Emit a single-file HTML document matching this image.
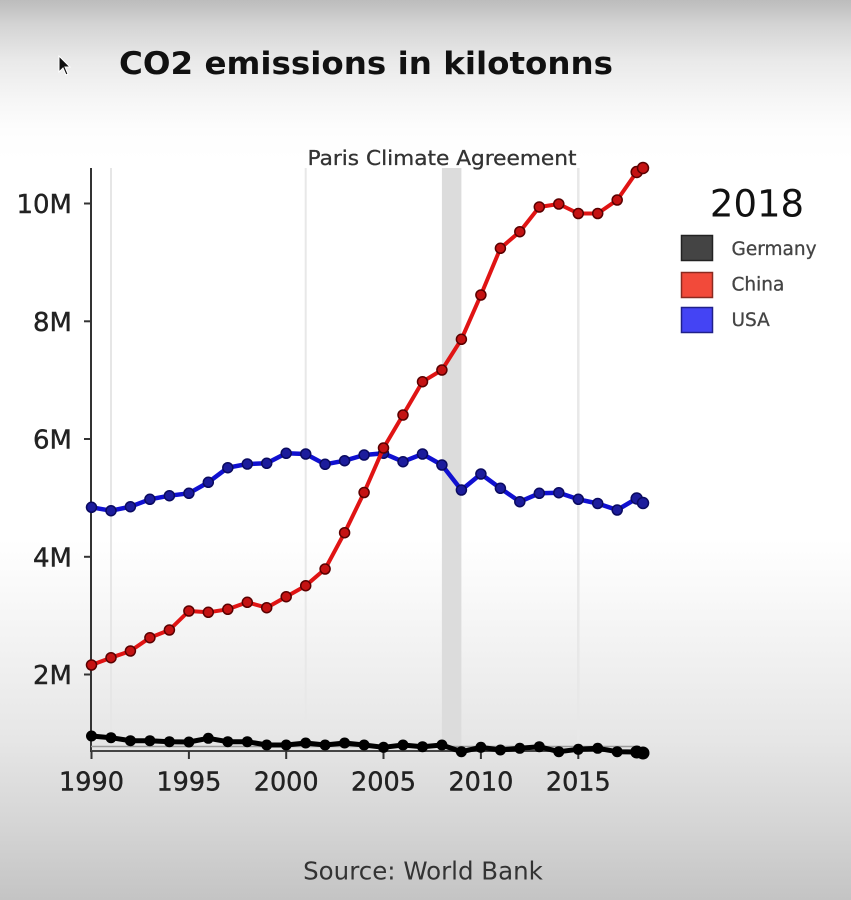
<!DOCTYPE html>
<html>
<head>
<meta charset="utf-8">
<style>
  html, body { margin:0; padding:0; }
  body {
    width:851px; height:900px; overflow:hidden;
    background: linear-gradient(to bottom, #bcbcbc 0px, #d4d4d4 25px, #e9e9e9 60px, #f6f6f6 100px, #fdfdfd 130px, #ffffff 160px, #ffffff 540px, #f3f3f3 640px, #e6e6e6 740px, #d4d4d4 830px, #c4c4c4 900px);
  }
  svg { display:block; }
  text { font-family: "DejaVu Sans", "Liberation Sans", sans-serif; }
</style>
</head>
<body>
<svg width="851" height="900" viewBox="0 0 851 900" xmlns="http://www.w3.org/2000/svg">
  <!-- title -->
  <text x="366" y="74" text-anchor="middle" font-size="31.5" font-weight="bold" fill="#111" textLength="494" lengthAdjust="spacingAndGlyphs">CO2 emissions in kilotonns</text>

  <!-- cursor -->
  <polygon points="59,56 59,72 63,68 66,75 68,74 65,67 70,67" fill="#111" stroke="#fff" stroke-width="1"/>

  <!-- background vertical markers -->
  <rect x="441.9" y="168" width="19.5" height="583" fill="#dcdcdc"/>
  <line x1="111" y1="168" x2="111" y2="751" stroke="#e6e6e6" stroke-width="2"/>
  <line x1="305.7" y1="168" x2="305.7" y2="751" stroke="#e8e8e8" stroke-width="2"/>
  <line x1="578.3" y1="168" x2="578.3" y2="751" stroke="#e8e8e8" stroke-width="2.5"/>

  <text x="442" y="165" text-anchor="middle" font-size="20.5" fill="#333" stroke="#333" stroke-width="0.3" textLength="269" lengthAdjust="spacingAndGlyphs">Paris Climate Agreement</text>

  <!-- axes -->
  <line x1="91" y1="168" x2="91" y2="752" stroke="#333" stroke-width="2"/>
  <line x1="91" y1="746.5" x2="640" y2="746.5" stroke="#9a9a9a" stroke-width="1.5"/>
  <line x1="91" y1="751" x2="640" y2="751" stroke="#444" stroke-width="2"/>

  <!-- y ticks -->
  <g stroke="#333" stroke-width="2">
    <line x1="84" y1="203.5" x2="91" y2="203.5"/>
    <line x1="84" y1="321.3" x2="91" y2="321.3"/>
    <line x1="84" y1="439" x2="91" y2="439"/>
    <line x1="84" y1="556.8" x2="91" y2="556.8"/>
    <line x1="84" y1="674.5" x2="91" y2="674.5"/>
  </g>
  <g font-size="26" fill="#222" stroke="#222" stroke-width="0.4" text-anchor="end">
    <text x="72" y="213">10M</text>
    <text x="72" y="330.8">8M</text>
    <text x="72" y="448.5">6M</text>
    <text x="72" y="566.3">4M</text>
    <text x="72" y="684">2M</text>
  </g>

  <!-- x ticks -->
  <g stroke="#333" stroke-width="2">
    <line x1="91.5" y1="751" x2="91.5" y2="759"/>
    <line x1="188.9" y1="751" x2="188.9" y2="759"/>
    <line x1="286.2" y1="751" x2="286.2" y2="759"/>
    <line x1="383.5" y1="751" x2="383.5" y2="759"/>
    <line x1="480.9" y1="751" x2="480.9" y2="759"/>
    <line x1="578.3" y1="751" x2="578.3" y2="759"/>
  </g>
  <g font-size="25.5" fill="#222" stroke="#222" stroke-width="0.4" text-anchor="middle">
    <text x="91.5" y="790.5">1990</text>
    <text x="188.9" y="790.5">1995</text>
    <text x="286.2" y="790.5">2000</text>
    <text x="383.5" y="790.5">2005</text>
    <text x="480.9" y="790.5">2010</text>
    <text x="578.3" y="790.5">2015</text>
  </g>

  <!-- USA (blue) -->
  <polyline fill="none" stroke="#1010d0" stroke-width="4.5" stroke-linejoin="round"
    points="91.5,507.3 111,510.7 130.4,506.7 149.9,499.3 169.4,495.7 188.9,493.3 208.3,482.3 227.8,467.7 247.3,464 266.7,463.3 286.2,453.3 305.7,454 325.1,464.3 344.6,460.7 364.1,455 383.5,453.3 403,461.7 422.5,454 441.9,465 461.4,490 480.9,474 500.4,488.3 519.8,501.7 539.3,493.3 558.8,492.7 578.3,499.3 597.7,503.5 617.2,510 636.7,498.5 643,503"/>
  <g fill="#1c1c9c" stroke="#0a0a60" stroke-width="1.5">
    <circle cx="91.5" cy="507.3" r="5"/><circle cx="111" cy="510.7" r="5"/><circle cx="130.4" cy="506.7" r="5"/><circle cx="149.9" cy="499.3" r="5"/><circle cx="169.4" cy="495.7" r="5"/><circle cx="188.9" cy="493.3" r="5"/><circle cx="208.3" cy="482.3" r="5"/><circle cx="227.8" cy="467.7" r="5"/><circle cx="247.3" cy="464" r="5"/><circle cx="266.7" cy="463.3" r="5"/><circle cx="286.2" cy="453.3" r="5"/><circle cx="305.7" cy="454" r="5"/><circle cx="325.1" cy="464.3" r="5"/><circle cx="344.6" cy="460.7" r="5"/><circle cx="364.1" cy="455" r="5"/><circle cx="383.5" cy="453.3" r="5"/><circle cx="403" cy="461.7" r="5"/><circle cx="422.5" cy="454" r="5"/><circle cx="441.9" cy="465" r="5"/><circle cx="461.4" cy="490" r="5"/><circle cx="480.9" cy="474" r="5"/><circle cx="500.4" cy="488.3" r="5"/><circle cx="519.8" cy="501.7" r="5"/><circle cx="539.3" cy="493.3" r="5"/><circle cx="558.8" cy="492.7" r="5"/><circle cx="578.3" cy="499.3" r="5"/><circle cx="597.7" cy="503.5" r="5"/><circle cx="617.2" cy="510" r="5"/><circle cx="636.7" cy="498.5" r="5.5"/><circle cx="643" cy="503" r="5.5"/>
  </g>

  <!-- China (red) -->
  <polyline fill="none" stroke="#e01414" stroke-width="4" stroke-linejoin="round"
    points="91.5,665 111,657.7 130.4,651 149.9,637.7 169.4,630 188.9,611 208.3,612.3 227.8,609.3 247.3,602.3 266.7,607.7 286.2,596.7 305.7,585.7 325.1,569 344.6,532.7 364.1,492.5 383.5,448 403,415 422.5,381.7 441.9,370 461.4,339.3 480.9,295 500.4,248.3 519.8,231.7 539.3,207 558.8,204 578.3,213.5 597.7,213.5 617.2,200 636.7,172 643,168"/>
  <g fill="#c41212" stroke="#5a0000" stroke-width="1.5">
    <circle cx="91.5" cy="665" r="5"/><circle cx="111" cy="657.7" r="5"/><circle cx="130.4" cy="651" r="5"/><circle cx="149.9" cy="637.7" r="5"/><circle cx="169.4" cy="630" r="5"/><circle cx="188.9" cy="611" r="5"/><circle cx="208.3" cy="612.3" r="5"/><circle cx="227.8" cy="609.3" r="5"/><circle cx="247.3" cy="602.3" r="5"/><circle cx="266.7" cy="607.7" r="5"/><circle cx="286.2" cy="596.7" r="5"/><circle cx="305.7" cy="585.7" r="5"/><circle cx="325.1" cy="569" r="5"/><circle cx="344.6" cy="532.7" r="5"/><circle cx="364.1" cy="492.5" r="5"/><circle cx="383.5" cy="448" r="5"/><circle cx="403" cy="415" r="5"/><circle cx="422.5" cy="381.7" r="5"/><circle cx="441.9" cy="370" r="5"/><circle cx="461.4" cy="339.3" r="5"/><circle cx="480.9" cy="295" r="5"/><circle cx="500.4" cy="248.3" r="5"/><circle cx="519.8" cy="231.7" r="5"/><circle cx="539.3" cy="207" r="5"/><circle cx="558.8" cy="204" r="5"/><circle cx="578.3" cy="213.5" r="5"/><circle cx="597.7" cy="213.5" r="5"/><circle cx="617.2" cy="200" r="5"/><circle cx="636.7" cy="172" r="5.5"/><circle cx="643" cy="168" r="5.5"/>
  </g>

  <!-- Germany (black) -->
  <polyline fill="none" stroke="#000" stroke-width="5" stroke-linejoin="round"
    points="91.5,736 111,737.7 130.4,740.7 149.9,740.7 169.4,741.7 188.9,742 208.3,738.3 227.8,741.7 247.3,741.7 266.7,745 286.2,745 305.7,743 325.1,745 344.6,743 364.1,745 383.5,747.3 403,745 422.5,746.7 441.9,745 461.4,751.7 480.9,747.3 500.4,750 519.8,748.3 539.3,746.7 558.8,751.7 578.3,749.3 597.7,748.3 617.2,751.7 636.7,752 643,753"/>
  <g fill="#000">
    <circle cx="91.5" cy="736" r="5.5"/><circle cx="111" cy="737.7" r="5.5"/><circle cx="130.4" cy="740.7" r="5.5"/><circle cx="149.9" cy="740.7" r="5.5"/><circle cx="169.4" cy="741.7" r="5.5"/><circle cx="188.9" cy="742" r="5.5"/><circle cx="208.3" cy="738.3" r="5.5"/><circle cx="227.8" cy="741.7" r="5.5"/><circle cx="247.3" cy="741.7" r="5.5"/><circle cx="266.7" cy="745" r="5.5"/><circle cx="286.2" cy="745" r="5.5"/><circle cx="305.7" cy="743" r="5.5"/><circle cx="325.1" cy="745" r="5.5"/><circle cx="344.6" cy="743" r="5.5"/><circle cx="364.1" cy="745" r="5.5"/><circle cx="383.5" cy="747.3" r="5.5"/><circle cx="403" cy="745" r="5.5"/><circle cx="422.5" cy="746.7" r="5.5"/><circle cx="441.9" cy="745" r="5.5"/><circle cx="461.4" cy="751.7" r="5.5"/><circle cx="480.9" cy="747.3" r="5.5"/><circle cx="500.4" cy="750" r="5.5"/><circle cx="519.8" cy="748.3" r="5.5"/><circle cx="539.3" cy="746.7" r="5.5"/><circle cx="558.8" cy="751.7" r="5.5"/><circle cx="578.3" cy="749.3" r="5.5"/><circle cx="597.7" cy="748.3" r="5.5"/><circle cx="617.2" cy="751.7" r="5.5"/><circle cx="636.7" cy="752" r="6.5"/><circle cx="643" cy="753" r="6.5"/>
  </g>

  <!-- legend -->
  <text x="757" y="216.7" text-anchor="middle" font-size="37" fill="#111">2018</text>
  <rect x="681.5" y="235.5" width="31" height="25" fill="#444" stroke="#222" stroke-width="1.5"/>
  <rect x="681.5" y="272.5" width="31" height="25" fill="#f24a3a" stroke="#8a2a20" stroke-width="1.5"/>
  <rect x="681.5" y="307.5" width="31" height="25" fill="#4444f4" stroke="#20208a" stroke-width="1.5"/>
  <g font-size="18.5" fill="#444" stroke="#444" stroke-width="0.3">
    <text x="731.5" y="255">Germany</text>
    <text x="731.5" y="290.7">China</text>
    <text x="731.5" y="326">USA</text>
  </g>

  <!-- source -->
  <text x="423" y="879.3" text-anchor="middle" font-size="24.5" fill="#333">Source: World Bank</text>
</svg>
</body>
</html>
